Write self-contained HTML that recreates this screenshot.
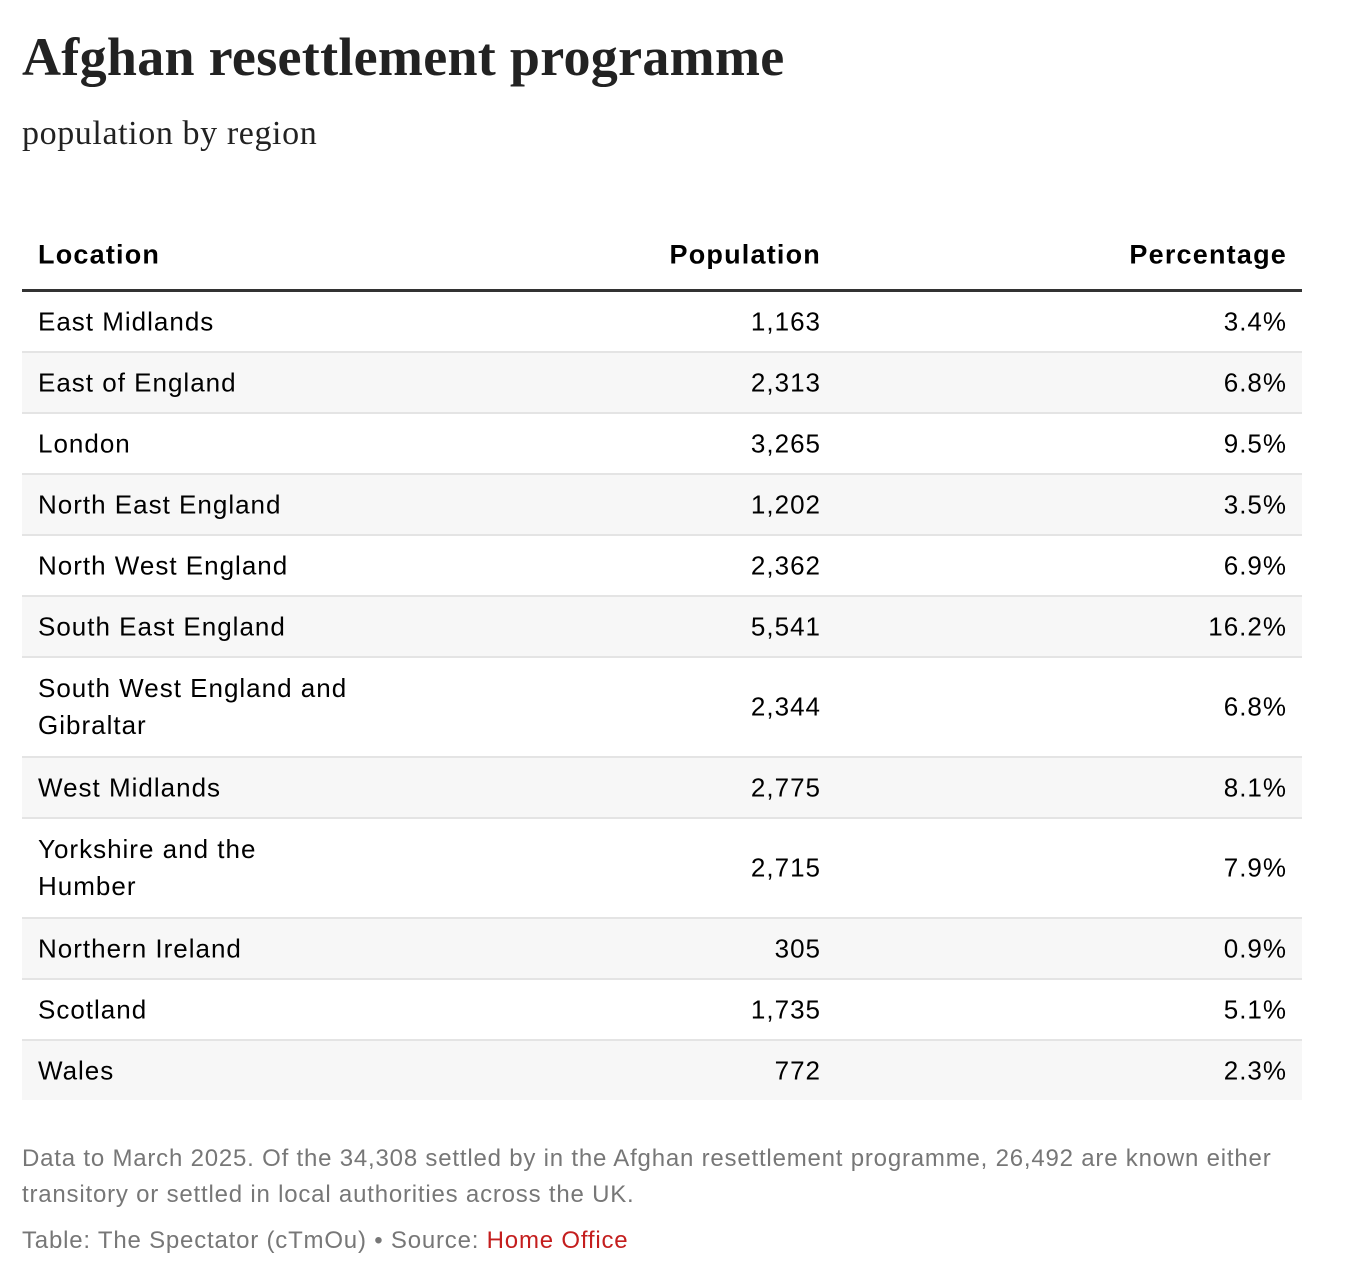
<!DOCTYPE html>
<html><head><meta charset="utf-8"><style>
body{margin:0;background:#fff;width:1348px;height:1280px;position:relative;font-family:"Liberation Sans",sans-serif;color:#000}
.t{position:absolute;left:22px;top:22px;font-family:"Liberation Serif",serif;font-weight:bold;font-size:54px;color:#222;line-height:70px;letter-spacing:0.3px}
.s{position:absolute;left:22px;top:112px;font-family:"Liberation Serif",serif;font-size:34px;color:#222;line-height:44px;letter-spacing:0.6px}
.r{position:absolute;left:22px;width:1280px;border-bottom:2px solid #e4e4e4;box-sizing:border-box;font-size:26px;letter-spacing:1px}
.r span{position:absolute;top:50%;transform:translateY(-50%);line-height:37px}
.a{left:16px}.b{right:481px}.c{right:15px}
.g{background:#f7f7f7}
.h{font-weight:bold;font-size:27px;border-bottom:3px solid #333;letter-spacing:1.2px}
.f{position:absolute;left:22px;font-size:24px;color:#777;line-height:36px;letter-spacing:0.8px}
</style></head><body>
<div class="t">Afghan resettlement programme</div>
<div class="s">population by region</div>
<div class="r h" style="top:221px;height:71px"><span class="a">Location</span><span class="b">Population</span><span class="c">Percentage</span></div>
<div class="r" style="top:292px;height:61px"><span class="a">East Midlands</span><span class="b">1,163</span><span class="c">3.4%</span></div>
<div class="r g" style="top:353px;height:61px"><span class="a">East of England</span><span class="b">2,313</span><span class="c">6.8%</span></div>
<div class="r" style="top:414px;height:61px"><span class="a">London</span><span class="b">3,265</span><span class="c">9.5%</span></div>
<div class="r g" style="top:475px;height:61px"><span class="a">North East England</span><span class="b">1,202</span><span class="c">3.5%</span></div>
<div class="r" style="top:536px;height:61px"><span class="a">North West England</span><span class="b">2,362</span><span class="c">6.9%</span></div>
<div class="r g" style="top:597px;height:61px"><span class="a">South East England</span><span class="b">5,541</span><span class="c">16.2%</span></div>
<div class="r" style="top:658px;height:100px"><span class="a">South West England and<br>Gibraltar</span><span class="b">2,344</span><span class="c">6.8%</span></div>
<div class="r g" style="top:758px;height:61px"><span class="a">West Midlands</span><span class="b">2,775</span><span class="c">8.1%</span></div>
<div class="r" style="top:819px;height:100px"><span class="a">Yorkshire and the<br>Humber</span><span class="b">2,715</span><span class="c">7.9%</span></div>
<div class="r g" style="top:919px;height:61px"><span class="a">Northern Ireland</span><span class="b">305</span><span class="c">0.9%</span></div>
<div class="r" style="top:980px;height:61px"><span class="a">Scotland</span><span class="b">1,735</span><span class="c">5.1%</span></div>
<div class="r g" style="top:1041px;height:59px;border-bottom:none"><span class="a">Wales</span><span class="b">772</span><span class="c">2.3%</span></div>
<div class="f" style="top:1141px">Data to March 2025. Of the 34,308 settled by in the Afghan resettlement programme, 26,492 are known either<br>transitory or settled in local authorities across the UK.</div>
<div class="f" style="top:1223px">Table: The Spectator (cTmOu) • Source: <span style="color:#c41e1e">Home Office</span></div>
</body></html>
